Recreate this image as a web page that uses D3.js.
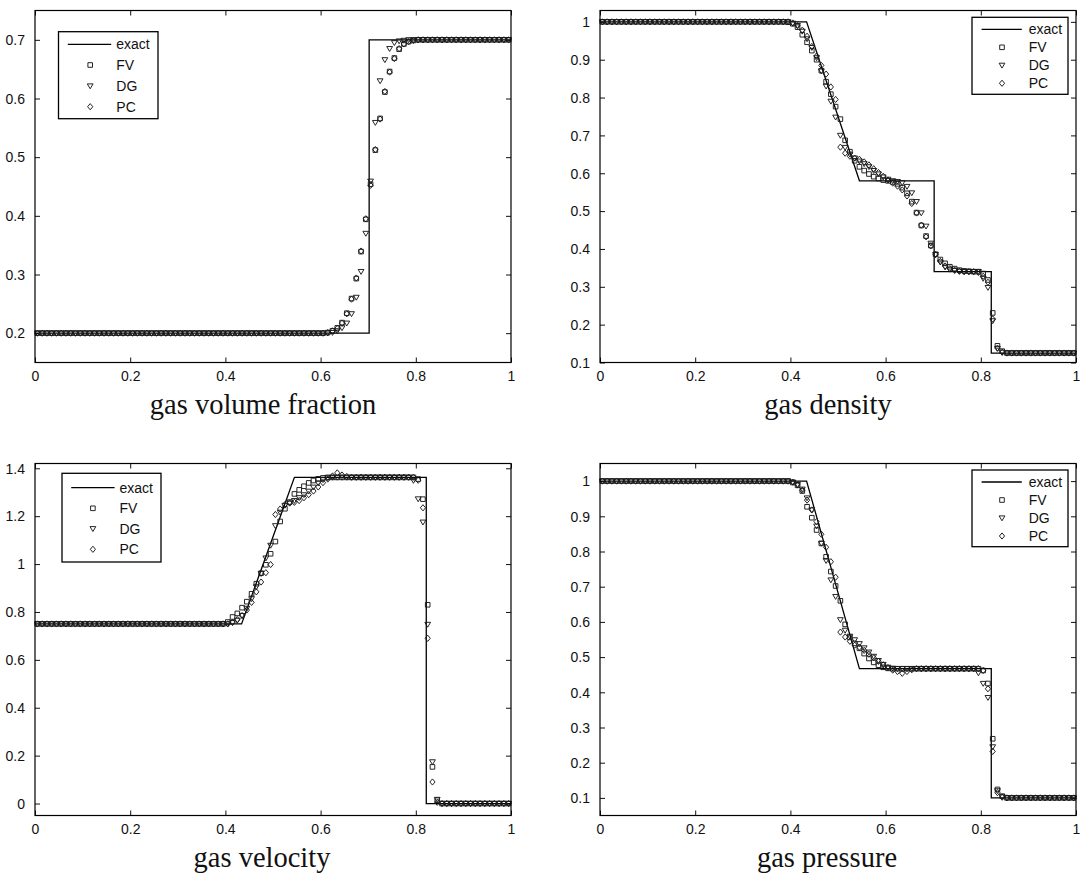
<!DOCTYPE html>
<html><head><meta charset="utf-8">
<script src="https://cdn.jsdelivr.net/npm/d3@7"></script>
<style>body{margin:0;background:#fff}svg{display:block}</style>
</head><body>
<svg id="c" width="1080" height="874"></svg>
<script>
// cell centres
const xCells = [
0.005,0.015,0.025,0.035,0.045,0.055,0.065,0.075,0.085,0.095,
0.105,0.115,0.125,0.135,0.145,0.155,0.165,0.175,0.185,0.195,
0.205,0.215,0.225,0.235,0.245,0.255,0.265,0.275,0.285,0.295,
0.305,0.315,0.325,0.335,0.345,0.355,0.365,0.375,0.385,0.395,
0.405,0.415,0.425,0.435,0.445,0.455,0.465,0.475,0.485,0.495,
0.505,0.515,0.525,0.535,0.545,0.555,0.565,0.575,0.585,0.595,
0.605,0.615,0.625,0.635,0.645,0.655,0.665,0.675,0.685,0.695,
0.705,0.715,0.725,0.735,0.745,0.755,0.765,0.775,0.785,0.795,
0.805,0.815,0.825,0.835,0.845,0.855,0.865,0.875,0.885,0.895,
0.905,0.915,0.925,0.935,0.945,0.955,0.965,0.975,0.985,0.995];

const xTicks = [0,0.2,0.4,0.6,0.8,1];
const legendLabels = ["exact","FV","DG","PC"];

// ---------- gas volume fraction ----------
const volTitle = "gas volume fraction";
const volTicks = [0.2,0.3,0.4,0.5,0.6,0.7];
const volExactX = [0,0.702,0.702,1];
const volExactY = [0.2,0.2,0.7,0.7];
const volFV = [
0.2,0.2,0.2,0.2,0.2,0.2,0.2,0.2,0.2,0.2,
0.2,0.2,0.2,0.2,0.2,0.2,0.2,0.2,0.2,0.2,
0.2,0.2,0.2,0.2,0.2,0.2,0.2,0.2,0.2,0.2,
0.2,0.2,0.2,0.2,0.2,0.2,0.2,0.2,0.2,0.2,
0.2,0.2,0.2,0.2,0.2,0.2,0.2,0.2,0.2,0.2,
0.2,0.2,0.2,0.2,0.2,0.2,0.2,0.2,0.2,0.2,
0.2,0.201,0.204,0.209,0.218,0.234,0.259,0.293,0.339,0.394,
0.454,0.512,0.566,0.611,0.646,0.669,0.684,0.693,0.697,0.699,
0.7,0.7,0.7,0.7,0.7,0.7,0.7,0.7,0.7,0.7,
0.7,0.7,0.7,0.7,0.7,0.7,0.7,0.7,0.7,0.7];
const volDG = [
0.2,0.2,0.2,0.2,0.2,0.2,0.2,0.2,0.2,0.2,
0.2,0.2,0.2,0.2,0.2,0.2,0.2,0.2,0.2,0.2,
0.2,0.2,0.2,0.2,0.2,0.2,0.2,0.2,0.2,0.2,
0.2,0.2,0.2,0.2,0.2,0.2,0.2,0.2,0.2,0.2,
0.2,0.2,0.2,0.2,0.2,0.2,0.2,0.2,0.2,0.2,
0.2,0.2,0.2,0.2,0.2,0.2,0.2,0.2,0.2,0.2,
0.2,0.2,0.201,0.204,0.209,0.217,0.233,0.261,0.305,0.370,
0.459,0.559,0.630,0.666,0.685,0.695,0.698,0.699,0.7,0.7,
0.7,0.7,0.7,0.7,0.7,0.7,0.7,0.7,0.7,0.7,
0.7,0.7,0.7,0.7,0.7,0.7,0.7,0.7,0.7,0.7];
const volPC = [
0.2,0.2,0.2,0.2,0.2,0.2,0.2,0.2,0.2,0.2,
0.2,0.2,0.2,0.2,0.2,0.2,0.2,0.2,0.2,0.2,
0.2,0.2,0.2,0.2,0.2,0.2,0.2,0.2,0.2,0.2,
0.2,0.2,0.2,0.2,0.2,0.2,0.2,0.2,0.2,0.2,
0.2,0.2,0.2,0.2,0.2,0.2,0.2,0.2,0.2,0.2,
0.2,0.2,0.2,0.2,0.2,0.2,0.2,0.2,0.2,0.2,
0.2,0.201,0.204,0.208,0.217,0.233,0.258,0.294,0.340,0.395,
0.452,0.513,0.565,0.612,0.645,0.668,0.685,0.693,0.697,0.699,
0.7,0.7,0.7,0.7,0.7,0.7,0.7,0.7,0.7,0.7,
0.7,0.7,0.7,0.7,0.7,0.7,0.7,0.7,0.7,0.7];

// ---------- gas density ----------
const denTitle = "gas density";
const denTicks = [0.1,0.2,0.3,0.4,0.5,0.6,0.7,0.8,0.9,1];
const denExactX = [0,0.434,0.545,0.702,0.702,0.822,0.822,1];
const denExactY = [1,1,0.58,0.58,0.34,0.34,0.125,0.125];
const denFV = [
1,1,1,1,1,1,1,1,1,1,
1,1,1,1,1,1,1,1,1,1,
1,1,1,1,1,1,1,1,1,1,
1,1,1,1,1,1,1,1,1,0.999,
0.995,0.986,0.966,0.946,0.924,0.900,0.871,0.842,0.809,0.776,
0.743,0.687,0.657,0.633,0.617,0.607,0.598,0.591,0.586,0.582,
0.580,0.577,0.572,0.562,0.547,0.525,0.496,0.462,0.434,0.409,
0.386,0.372,0.362,0.353,0.348,0.344,0.342,0.341,0.340,0.340,
0.335,0.318,0.231,0.144,0.130,0.125,0.125,0.125,0.125,0.125,
0.125,0.125,0.125,0.125,0.125,0.125,0.125,0.125,0.125,0.125];
const denDG = [
1,1,1,1,1,1,1,1,1,1,
1,1,1,1,1,1,1,1,1,1,
1,1,1,1,1,1,1,1,1,1,
1,1,1,1,1,1,1,1,1,1,
0.996,0.990,0.975,0.955,0.932,0.905,0.870,0.830,0.790,0.748,
0.700,0.668,0.650,0.640,0.632,0.625,0.617,0.607,0.598,0.590,
0.584,0.580,0.578,0.575,0.565,0.548,0.525,0.495,0.460,0.415,
0.385,0.365,0.352,0.346,0.343,0.341,0.340,0.340,0.340,0.340,
0.322,0.298,0.210,0.137,0.127,0.125,0.125,0.125,0.125,0.125,
0.125,0.125,0.125,0.125,0.125,0.125,0.125,0.125,0.125,0.125];
const denPC = [
1,1,1,1,1,1,1,1,1,1,
1,1,1,1,1,1,1,1,1,1,
1,1,1,1,1,1,1,1,1,1,
1,1,1,1,1,1,1,1,1,1,
0.997,0.990,0.978,0.962,0.935,0.910,0.885,0.862,0.828,0.795,
0.669,0.653,0.645,0.640,0.637,0.630,0.622,0.612,0.602,0.592,
0.582,0.574,0.566,0.556,0.540,0.520,0.495,0.463,0.432,0.408,
0.385,0.367,0.355,0.348,0.344,0.341,0.340,0.340,0.340,0.338,
0.328,0.312,0.215,0.138,0.127,0.125,0.125,0.125,0.125,0.125,
0.125,0.125,0.125,0.125,0.125,0.125,0.125,0.125,0.125,0.125];

// ---------- gas velocity ----------
const velTitle = "gas velocity";
const velTicks = [0,0.2,0.4,0.6,0.8,1,1.2,1.4];
const velExactX = [0,0.434,0.545,0.822,0.822,1];
const velExactY = [0.75,0.75,1.362,1.362,0,0];
const velFV = [
0.75,0.75,0.75,0.75,0.75,0.75,0.75,0.75,0.75,0.75,
0.75,0.75,0.75,0.75,0.75,0.75,0.75,0.75,0.75,0.75,
0.75,0.75,0.75,0.75,0.75,0.75,0.75,0.75,0.75,0.75,
0.75,0.75,0.75,0.75,0.75,0.75,0.75,0.75,0.75,0.75,
0.758,0.779,0.794,0.818,0.843,0.876,0.918,0.962,0.997,1.043,
1.094,1.178,1.231,1.259,1.293,1.310,1.325,1.339,1.349,1.356,
1.360,1.362,1.362,1.362,1.362,1.362,1.362,1.362,1.362,1.362,
1.362,1.362,1.362,1.362,1.362,1.362,1.362,1.362,1.362,1.362,
1.355,1.271,0.830,0.153,0.014,0,0,0,0,0,
0,0,0,0,0,0,0,0,0,0];
const velDG = [
0.75,0.75,0.75,0.75,0.75,0.75,0.75,0.75,0.75,0.75,
0.75,0.75,0.75,0.75,0.75,0.75,0.75,0.75,0.75,0.75,
0.75,0.75,0.75,0.75,0.75,0.75,0.75,0.75,0.75,0.75,
0.75,0.75,0.75,0.75,0.75,0.75,0.75,0.75,0.75,0.75,
0.75,0.755,0.765,0.785,0.815,0.855,0.905,0.960,1.025,1.078,
1.160,1.216,1.245,1.254,1.265,1.277,1.289,1.304,1.321,1.338,
1.352,1.360,1.362,1.362,1.362,1.362,1.362,1.362,1.362,1.362,
1.362,1.362,1.362,1.362,1.362,1.362,1.362,1.362,1.362,1.349,
1.272,1.175,0.748,0.174,0.017,0,0,0,0,0,
0,0,0,0,0,0,0,0,0,0];
const velPC = [
0.75,0.75,0.75,0.75,0.75,0.75,0.75,0.75,0.75,0.75,
0.75,0.75,0.75,0.75,0.75,0.75,0.75,0.75,0.75,0.75,
0.75,0.75,0.75,0.75,0.75,0.75,0.75,0.75,0.75,0.75,
0.75,0.75,0.75,0.75,0.75,0.75,0.75,0.75,0.75,0.75,
0.75,0.757,0.768,0.785,0.808,0.840,0.884,0.925,0.964,0.998,
1.207,1.230,1.248,1.255,1.258,1.265,1.277,1.290,1.305,1.322,
1.340,1.355,1.368,1.381,1.372,1.366,1.363,1.363,1.363,1.363,
1.363,1.363,1.363,1.363,1.363,1.363,1.363,1.363,1.363,1.363,
1.350,1.235,0.690,0.090,0.005,0,0,0,0,0,
0,0,0,0,0,0,0,0,0,0];

// ---------- gas pressure ----------
const preTitle = "gas pressure";
const preTicks = [0.1,0.2,0.3,0.4,0.5,0.6,0.7,0.8,0.9,1];
const preExactX = [0,0.434,0.545,0.822,0.822,1];
const preExactY = [1,1,0.467,0.467,0.1,0.1];
const preFV = [
1,1,1,1,1,1,1,1,1,1,
1,1,1,1,1,1,1,1,1,1,
1,1,1,1,1,1,1,1,1,1,
1,1,1,1,1,1,1,1,1,1,
0.996,0.988,0.972,0.927,0.896,0.861,0.823,0.785,0.743,0.702,
0.660,0.593,0.556,0.539,0.525,0.510,0.496,0.485,0.477,0.471,
0.468,0.467,0.467,0.467,0.467,0.467,0.467,0.467,0.467,0.467,
0.467,0.467,0.467,0.467,0.467,0.467,0.467,0.467,0.467,0.467,
0.462,0.425,0.268,0.124,0.105,0.1,0.1,0.1,0.1,0.1,
0.1,0.1,0.1,0.1,0.1,0.1,0.1,0.1,0.1,0.1];
const preDG = [
1,1,1,1,1,1,1,1,1,1,
1,1,1,1,1,1,1,1,1,1,
1,1,1,1,1,1,1,1,1,1,
1,1,1,1,1,1,1,1,1,1,
0.997,0.990,0.977,0.952,0.918,0.872,0.823,0.774,0.719,0.672,
0.606,0.576,0.559,0.549,0.538,0.526,0.514,0.502,0.490,0.479,
0.471,0.468,0.467,0.467,0.467,0.467,0.467,0.467,0.467,0.467,
0.467,0.467,0.467,0.467,0.467,0.467,0.467,0.467,0.467,0.455,
0.425,0.385,0.245,0.120,0.103,0.1,0.1,0.1,0.1,0.1,
0.1,0.1,0.1,0.1,0.1,0.1,0.1,0.1,0.1,0.1];
const prePC = [
1,1,1,1,1,1,1,1,1,1,
1,1,1,1,1,1,1,1,1,1,
1,1,1,1,1,1,1,1,1,1,
1,1,1,1,1,1,1,1,1,1,
0.997,0.989,0.974,0.946,0.918,0.885,0.849,0.812,0.771,0.727,
0.571,0.557,0.545,0.534,0.528,0.519,0.508,0.498,0.488,0.478,
0.470,0.463,0.459,0.454,0.459,0.464,0.467,0.467,0.467,0.467,
0.467,0.467,0.467,0.467,0.467,0.467,0.467,0.467,0.467,0.467,
0.462,0.410,0.232,0.115,0.102,0.1,0.1,0.1,0.1,0.1,
0.1,0.1,0.1,0.1,0.1,0.1,0.1,0.1,0.1,0.1];

// ---------- layout ----------
const W = 476, H = 352;
const panels = [
  {title:volTitle, ticks:volTicks, dom:[0.15,0.75], ex:volExactX, ey:volExactY, fv:volFV, dg:volDG, pc:volPC,
   left:35, top:10.5, titleX:263,
   lg:{x:58.5, y:31.7, w:99.5, h:87, rows:[12.6,33.3,54.3,75], l0:67.8, l1:111.2, mx:90.2, tx:116.3}},
  {title:denTitle, ticks:denTicks, dom:[0.1,1.03], ex:denExactX, ey:denExactY, fv:denFV, dg:denDG, pc:denPC,
   left:600, top:10.5, titleX:828,
   lg:{x:972, y:17.3, w:96, h:77, rows:[12,30,48,66], l0:981.6, l1:1021.8, mx:1002, tx:1028.7}},
  {title:velTitle, ticks:velTicks, dom:[-0.05,1.42], ex:velExactX, ey:velExactY, fv:velFV, dg:velDG, pc:velPC,
   left:35, top:463.5, titleX:262,
   lg:{x:62, y:473.3, w:99, h:88.7, rows:[14.4,35,55.4,76], l0:71.2, l1:114.6, mx:92.9, tx:119.4}},
  {title:preTitle, ticks:preTicks, dom:[0.05,1.05], ex:preExactX, ey:preExactY, fv:preFV, dg:preDG, pc:prePC,
   left:600, top:463.5, titleX:827,
   lg:{x:972, y:470, w:96, h:76.7, rows:[12,30,48,66], l0:981.6, l1:1021.8, mx:1002, tx:1028.7}}
];

const svg = d3.select("#c");
const fmt = d => String(+d.toFixed(2));
const MK = "#1a1a1a";

const shapes = {
  FV: "M-2.3,-2.3H2.3V2.3H-2.3Z",
  DG: "M-2.9,-2.1L2.9,-2.1L0,2.8Z",
  PC: "M0,-3.1L2.6,0L0,3.1L-2.6,0Z"
};

panels.forEach(p => {
  const g = svg.append("g").attr("transform", `translate(${p.left},${p.top})`);
  const x = d3.scaleLinear().domain([0,1]).range([0,W]);
  const y = d3.scaleLinear().domain(p.dom).range([H,0]);

  const ax = (gen, tr) => {
    const a = g.append("g").attr("transform", tr).call(gen);
    a.select(".domain").remove();
    a.selectAll(".tick line").attr("stroke","#111").attr("stroke-width",1);
    a.selectAll("text").attr("font-family","'Liberation Sans', Arial, sans-serif")
      .attr("font-size","14px").attr("fill","#111");
    return a;
  };
  ax(d3.axisBottom(x).tickValues(xTicks).tickFormat(fmt).tickSizeInner(-5).tickSizeOuter(0).tickPadding(9), `translate(0,${H})`);
  ax(d3.axisTop(x).tickValues(xTicks).tickFormat("").tickSizeInner(-5).tickSizeOuter(0), `translate(0,0)`);
  const ly = ax(d3.axisLeft(y).tickValues(p.ticks).tickFormat(fmt).tickSizeInner(-5).tickSizeOuter(0).tickPadding(10), `translate(0,0)`);
  ax(d3.axisRight(y).tickValues(p.ticks).tickFormat("").tickSizeInner(-5).tickSizeOuter(0), `translate(${W},0)`);
  ly.selectAll("text").attr("dy","0.34em");

  const exact = p.ex.map((v,i)=>[v,p.ey[i]]);
  g.append("path").datum(exact)
    .attr("d", d3.line().x(d=>x(d[0])).y(d=>y(d[1])))
    .attr("fill","none").attr("stroke","#000").attr("stroke-width",1.3);

  [["FV",p.fv],["DG",p.dg],["PC",p.pc]].forEach(([k,arr]) => {
    g.append("g").selectAll("path").data(arr).join("path")
      .attr("transform",(d,i)=>`translate(${x(xCells[i])},${y(d)})`)
      .attr("d", shapes[k]).attr("fill","none").attr("stroke",MK).attr("stroke-width",0.95);
  });

  g.append("rect").attr("x",0).attr("y",0).attr("width",W).attr("height",H)
    .attr("fill","none").attr("stroke","#000").attr("stroke-width",1.2);

  const L = p.lg;
  const lg = svg.append("g");
  lg.append("rect").attr("x",L.x).attr("y",L.y).attr("width",L.w).attr("height",L.h)
    .attr("fill","#fff").attr("stroke","#000").attr("stroke-width",1.3);
  legendLabels.forEach((lab,i) => {
    const yy = L.y + L.rows[i];
    if (i===0) {
      lg.append("line").attr("x1",L.l0).attr("x2",L.l1).attr("y1",yy).attr("y2",yy)
        .attr("stroke","#000").attr("stroke-width",1.3);
    } else {
      lg.append("path").attr("transform",`translate(${L.mx},${yy})`)
        .attr("d", shapes[lab]).attr("fill","none").attr("stroke",MK).attr("stroke-width",0.95);
    }
    lg.append("text").attr("x",L.tx).attr("y",yy).attr("dy","0.35em")
      .attr("font-family","'Liberation Sans', Arial, sans-serif").attr("font-size","14px")
      .attr("fill","#111").text(lab);
  });

  svg.append("text").attr("x",p.titleX).attr("y",p.top + 403.5)
    .attr("text-anchor","middle").attr("font-family","'Liberation Serif', 'Times New Roman', serif")
    .attr("font-size","28.5px").attr("fill","#111").text(p.title);
});
</script>
</body></html>
